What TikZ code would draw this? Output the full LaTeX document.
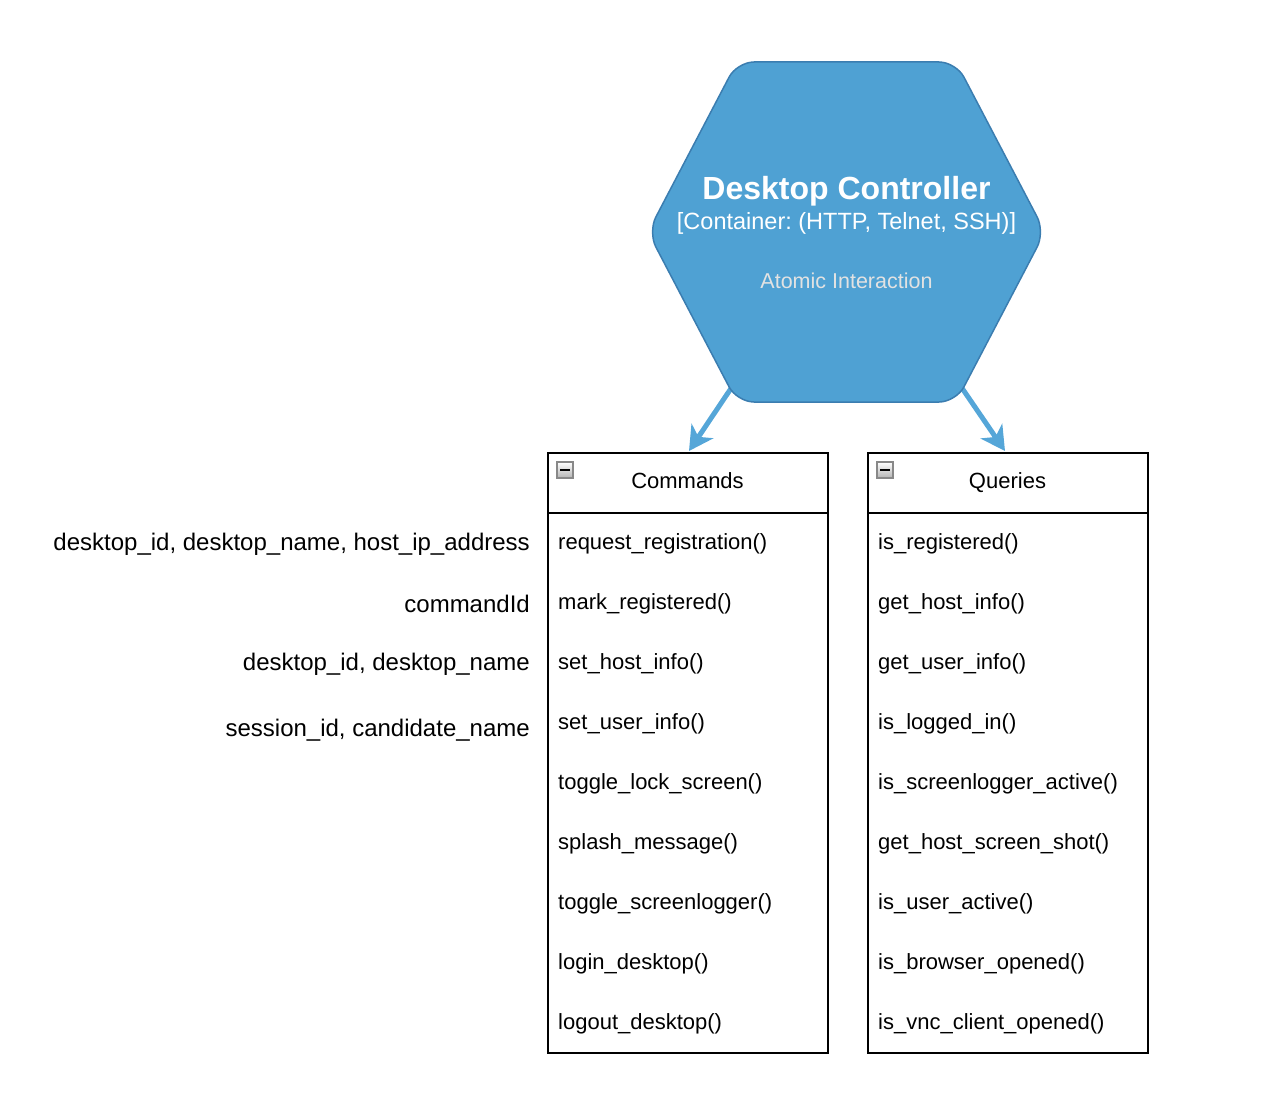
\documentclass[tikz,border=0pt]{standalone}
\usepackage{fontspec}
\setmainfont{Liberation Sans}
\frenchspacing
\usetikzlibrary{arrows.meta}
\definecolor{hexfill}{HTML}{4FA1D3}
\definecolor{hexline}{HTML}{3B7DB0}
\definecolor{arrowc}{HTML}{55A6D8}
\definecolor{subtle}{HTML}{E2E2E2}
\definecolor{iconline}{HTML}{888888}
\tikzset{
  rowtext/.style={anchor=west, inner sep=0pt, font=\fontsize{22}{26}\selectfont},
  sidelabel/.style={anchor=east, inner sep=0pt, font=\fontsize{24}{28}\selectfont},
  header/.style={draw=black, line width=2pt, minimum width=280pt, minimum height=60pt, inner sep=0pt, text height=16pt, text depth=5pt, anchor=north west, font=\fontsize{22}{26}\selectfont},
  bodybox/.style={draw=black, line width=2pt, minimum width=280pt, minimum height=540pt, inner sep=0pt, anchor=north west},
  flow/.style={draw=arrowc, line width=5pt, -{Stealth[length=24pt,width=26pt,inset=7pt]}},
  icon/.style={draw=iconline, line width=1.2pt, top color=white, bottom color=black!30, minimum size=16pt, inner sep=0pt},
}
\begin{document}
\begin{tikzpicture}[x=1pt,y=-1pt]
\useasboundingbox (0,0) rectangle (1272,1108);

% boxes
\node[header] (ch) at (546.5,451.5) {Commands};
\node[bodybox] (cb) at (546.5,511.5) {};
\node[header] (qh) at (866.5,451.5) {Queries};
\node[bodybox] (qb) at (866.5,511.5) {};

% collapse icons
\node[icon] (ci) at (565,470) {};
\draw[line width=2pt] ([xshift=-5pt]ci.center) -- ([xshift=5pt]ci.center);
\node[icon] (qi) at (885,470) {};
\draw[line width=2pt] ([xshift=-5pt]qi.center) -- ([xshift=5pt]qi.center);

% arrows (behind hexagon)
\coordinate (la) at (742,372);
\coordinate (ra) at (951,372);
\coordinate (lt) at (689,451);
\coordinate (rt) at (1005,451);
\draw[flow] (la) -- (lt);
\draw[flow] (ra) -- (rt);

% hexagon
\draw[fill=hexfill, draw=hexline, line width=1.5pt, rounded corners=17pt]
  (648,232) -- (737,62) -- (956,62) -- (1045,232) -- (956,402) -- (737,402) -- cycle;
\node[inner sep=0pt, text=white, font=\fontsize{32}{36}\selectfont\bfseries] (title) at (846.5,191) {Desktop Controller};
\node[inner sep=0pt, text=white, font=\fontsize{23.5}{28}\selectfont] (sub) at (846.5,223) {[Container: (HTTP, Telnet, SSH)]};
\node[inner sep=0pt, text=subtle, font=\fontsize{21.5}{26}\selectfont] (desc) at (846.5,281) {Atomic Interaction};

% command rows
\node[rowtext] (c1) at (558,544) {request\_registration()};
\node[rowtext] (c2) at (558,604) {mark\_registered()};
\node[rowtext] (c3) at (558,664) {set\_host\_info()};
\node[rowtext] (c4) at (558,724) {set\_user\_info()};
\node[rowtext] (c5) at (558,784) {toggle\_lock\_screen()};
\node[rowtext] (c6) at (558,844) {splash\_message()};
\node[rowtext] (c7) at (558,904) {toggle\_screenlogger()};
\node[rowtext] (c8) at (558,964) {login\_desktop()};
\node[rowtext] (c9) at (558,1024) {logout\_desktop()};

% query rows
\node[rowtext] (q1) at (878,544) {is\_registered()};
\node[rowtext] (q2) at (878,604) {get\_host\_info()};
\node[rowtext] (q3) at (878,664) {get\_user\_info()};
\node[rowtext] (q4) at (878,724) {is\_logged\_in()};
\node[rowtext] (q5) at (878,784) {is\_screenlogger\_active()};
\node[rowtext] (q6) at (878,844) {get\_host\_screen\_shot()};
\node[rowtext] (q7) at (878,904) {is\_user\_active()};
\node[rowtext] (q8) at (878,964) {is\_browser\_opened()};
\node[rowtext] (q9) at (878,1024) {is\_vnc\_client\_opened()};

% side labels
\node[sidelabel] (l1) at (530,544) {desktop\_id, desktop\_name, host\_ip\_address};
\node[sidelabel] (l2) at (530,604) {commandId};
\node[sidelabel] (l3) at (530,664) {desktop\_id, desktop\_name};
\node[sidelabel] (l4) at (530,730) {session\_id, candidate\_name};
\end{tikzpicture}
\end{document}
